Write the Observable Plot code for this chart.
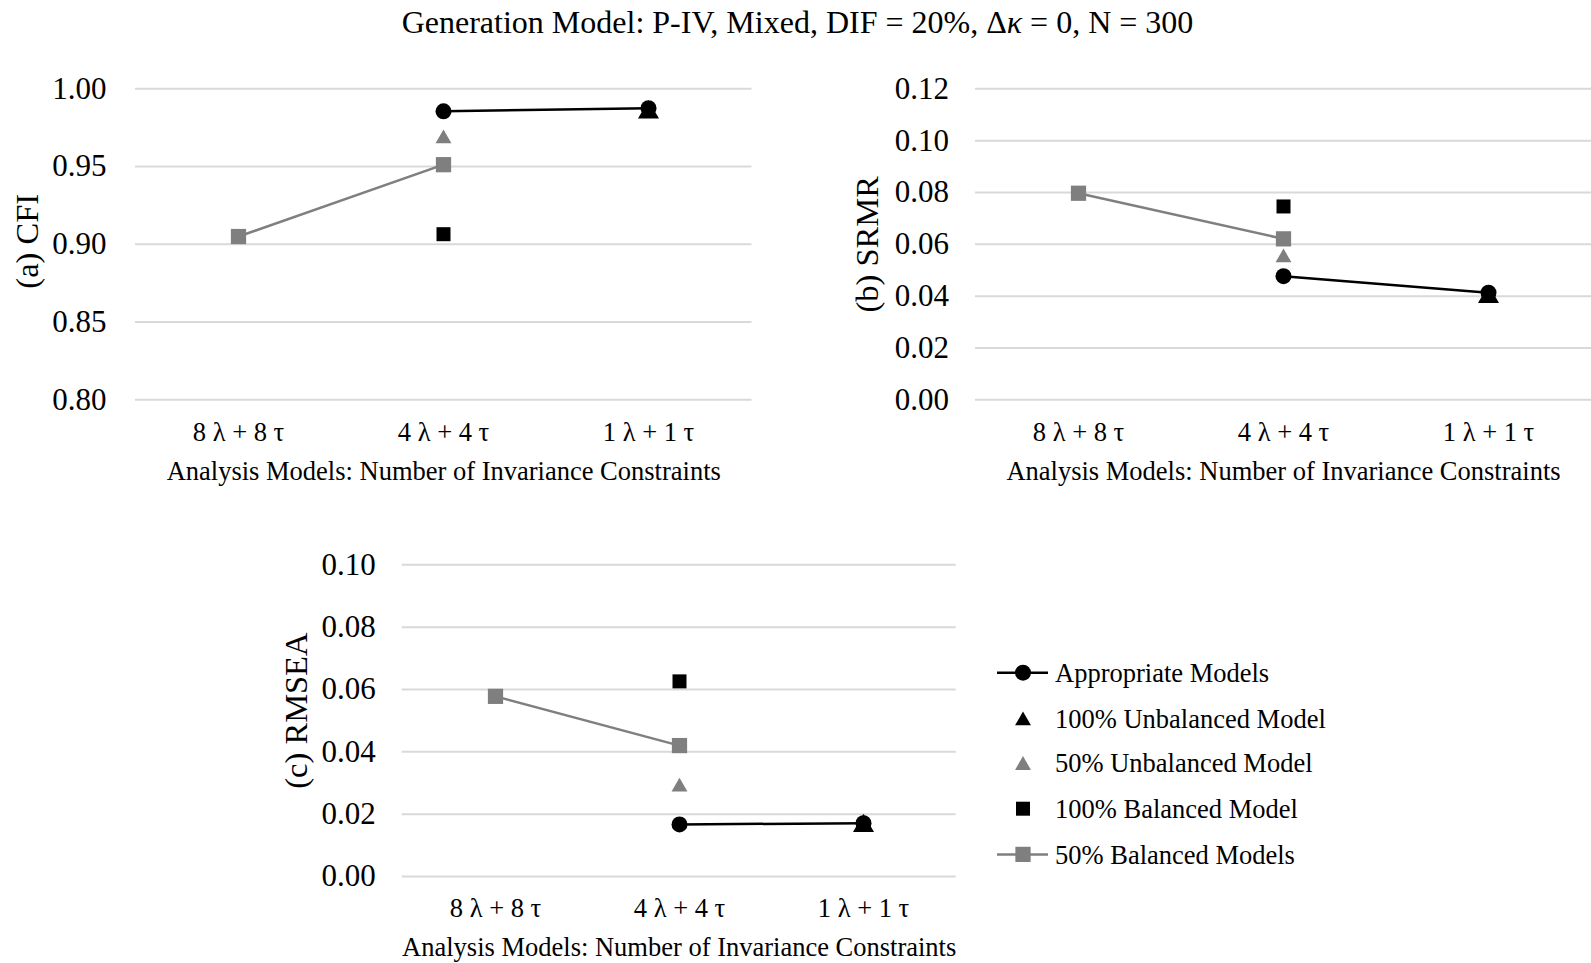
<!DOCTYPE html>
<html>
<head>
<meta charset="utf-8">
<script src="https://cdn.jsdelivr.net/npm/d3@7"></script>
<script src="https://cdn.jsdelivr.net/npm/@observablehq/plot@0.6"></script>
<style>
  body { margin: 0; background: #fff; }
  #root { position: relative; width: 1591px; height: 963px; overflow: hidden; background: #fff;
          font-family: "Liberation Serif", "Times New Roman", serif; color: #000; }
  #root > * { position: absolute; }
  #title { left: 2px; top: 5px; width: 1591px; text-align: center; font-size: 32px; line-height: 34px; }
</style>
</head>
<body>
<div id="root">
  <div id="title">Generation Model: P-IV, Mixed, DIF = 20%, Δ<i>κ</i> = 0, N = 300</div>
</div>
<script>
// ---------------- data ----------------
const categories = ["8 λ + 8 τ", "4 λ + 4 τ", "1 λ + 1 τ"];
const seriesNames = ["Appropriate Models", "100% Unbalanced Model", "50% Unbalanced Model", "100% Balanced Model", "50% Balanced Models"];
const xAxisTitle = "Analysis Models: Number of Invariance Constraints";

// (a) CFI
const cfiAppropriate = [null, 0.9855, 0.9875];
const cfiUnbal100    = [null, null, 0.9867];
const cfiUnbal50     = [null, 0.9694, null];
const cfiBal100      = [null, 0.9065, null];
const cfiBal50       = [0.9050, 0.9512, null];
const cfiTicks = [0.80, 0.85, 0.90, 0.95, 1.00];

// (b) SRMR
const srmrAppropriate = [null, 0.0477, 0.0413];
const srmrUnbal100    = [null, null, 0.0409];
const srmrUnbal50     = [null, 0.0557, null];
const srmrBal100      = [null, 0.0746, null];
const srmrBal50       = [0.0797, 0.0621, null];
const srmrTicks = [0.00, 0.02, 0.04, 0.06, 0.08, 0.10, 0.12];

// (c) RMSEA
const rmseaAppropriate = [null, 0.0167, 0.0171];
const rmseaUnbal100    = [null, null, 0.0172];
const rmseaUnbal50     = [null, 0.0295, null];
const rmseaBal100      = [null, 0.0626, null];
const rmseaBal50       = [0.0578, 0.0420, null];
const rmseaTicks = [0.00, 0.02, 0.04, 0.06, 0.08, 0.10];

// ---------------- styles ----------------
const GRAY = "#7f7f7f";
// r: chart marker radius; lr: legend marker radius
const seriesStyle = [
  {symbol: "circle",   fill: "#000", r: 8.0, lr: 8.0, line: true,  stroke: "#000"},
  {symbol: "triangle", fill: "#000", r: 7.8, lr: 5.9, line: false, stroke: "#000"},
  {symbol: "triangle", fill: GRAY,   r: 5.9, lr: 5.9, line: false, stroke: GRAY},
  {symbol: "square",   fill: "#000", r: 7.9, lr: 7.9, line: false, stroke: "#000"},
  {symbol: "square",   fill: GRAY,   r: 8.6, lr: 8.6, line: true,  stroke: GRAY}
];
// shift that centres a d3 triangle's bounding box (instead of its centroid) on the value
function triDy(r) { return Math.sqrt(Math.PI * r * r / (3 * Math.sqrt(3))) / 2; }

function rowsFor(arrays) {
  const rows = [];
  arrays.forEach((vals, s) => vals.forEach((v, i) => {
    if (v != null) rows.push({series: seriesNames[s], s, cat: categories[i], value: v});
  }));
  return rows;
}

function panel(cfg) {
  const rows = rowsFor(cfg.arrays);
  const marks = [
    Plot.ruleY(cfg.ticks, {stroke: "#d9d9d9", strokeWidth: 2}),
    Plot.axisY({ticks: cfg.ticks, tickFormat: d3.format(".2f"), tickSize: 0, tickPadding: cfg.tickPad,
                fontSize: 31, label: null}),
    Plot.axisX({tickSize: 0, tickPadding: 22, fontSize: 26.5, label: null}),
    Plot.text([xAxisTitle], {text: d => d, frameAnchor: "bottom", dy: 71.5, fontSize: 26.5, lineAnchor: "middle", textAnchor: "middle"}),
    Plot.text([cfg.yLabel], {text: d => d, frameAnchor: "left", dx: -cfg.yLabelOff, dy: cfg.yLabelDy, rotate: -90,
                             fontSize: 32.5, lineAnchor: "middle", textAnchor: "middle"})
  ];
  seriesStyle.forEach((st, s) => {
    const data = rows.filter(d => d.s === s);
    if (st.line) marks.push(Plot.line(data, {x: "cat", y: "value", stroke: st.stroke, strokeWidth: 2.5}));
  });
  seriesStyle.forEach((st, s) => {
    const data = rows.filter(d => d.s === s);
    marks.push(Plot.dot(data, {x: "cat", y: "value", symbol: () => st.symbol, fill: st.fill, stroke: "none", r: st.r,
                               dy: st.symbol === "triangle" ? triDy(st.r) : 0}));
  });
  const svg = Plot.plot({
    width: cfg.width, height: cfg.height,
    marginLeft: cfg.mL, marginRight: cfg.mR, marginTop: cfg.mT, marginBottom: cfg.mB,
    style: {fontFamily: '"Liberation Serif", "Times New Roman", serif', color: "#000", background: "transparent", overflow: "visible"},
    x: {type: "point", domain: categories, padding: 0.5},
    y: {domain: cfg.domain},
    symbol: {type: "identity"},
    marks
  });
  svg.style.left = cfg.left + "px";
  svg.style.top = cfg.top + "px";
  document.getElementById("root").appendChild(svg);
}

panel({
  arrays: [cfiAppropriate, cfiUnbal100, cfiUnbal50, cfiBal100, cfiBal50],
  ticks: cfiTicks, domain: [0.80, 1.00], yLabel: "(a) CFI",
  left: 0, top: 0, width: 760, height: 500, mL: 135, mR: 8.5, mT: 88.3, mB: 100.7,
  tickPad: 29, yLabelOff: 108, yLabelDy: -3
});
panel({
  arrays: [srmrAppropriate, srmrUnbal100, srmrUnbal50, srmrBal100, srmrBal50],
  ticks: srmrTicks, domain: [0, 0.12], yLabel: "(b) SRMR",
  left: 800, top: 0, width: 791, height: 500, mL: 175, mR: 0, mT: 88.3, mB: 100.7,
  tickPad: 26.5, yLabelOff: 107.5, yLabelDy: 0
});
panel({
  arrays: [rmseaAppropriate, rmseaUnbal100, rmseaUnbal50, rmseaBal100, rmseaBal50],
  ticks: rmseaTicks, domain: [0, 0.10], yLabel: "(c) RMSEA",
  left: 250, top: 480, width: 720, height: 483, mL: 151.7, mR: 14.3, mT: 84.3, mB: 87,
  tickPad: 26.5, yLabelOff: 105.5, yLabelDy: -10
});

// ---------------- legend ----------------
(function legend() {
  const rowY = [32.7, 78.4, 123, 168.7, 214.4];
  const svg = d3.create("svg").attr("width", 400).attr("height", 240)
    .style("left", "970px").style("top", "640px")
    .style("font-family", '"Liberation Serif", "Times New Roman", serif');
  const symMap = {circle: d3.symbolCircle, triangle: d3.symbolTriangle, square: d3.symbolSquare};
  seriesNames.forEach((name, i) => {
    const st = seriesStyle[i];
    const g = svg.append("g").attr("transform", `translate(0,${rowY[i]})`);
    if (st.line) g.append("line").attr("x1", 27).attr("x2", 78).attr("y1", 0).attr("y2", 0)
      .attr("stroke", st.stroke).attr("stroke-width", 2.5);
    g.append("path").attr("transform", `translate(53,${st.symbol === "triangle" ? triDy(st.lr) : 0})`)
      .attr("d", d3.symbol(symMap[st.symbol], Math.PI * st.lr * st.lr)())
      .attr("fill", st.fill);
    g.append("text").attr("x", 85).attr("y", 0).attr("dy", "0.35em")
      .attr("font-size", 26.5).attr("fill", "#000").text(name);
  });
  document.getElementById("root").appendChild(svg.node());
})();
</script>
</body>
</html>
